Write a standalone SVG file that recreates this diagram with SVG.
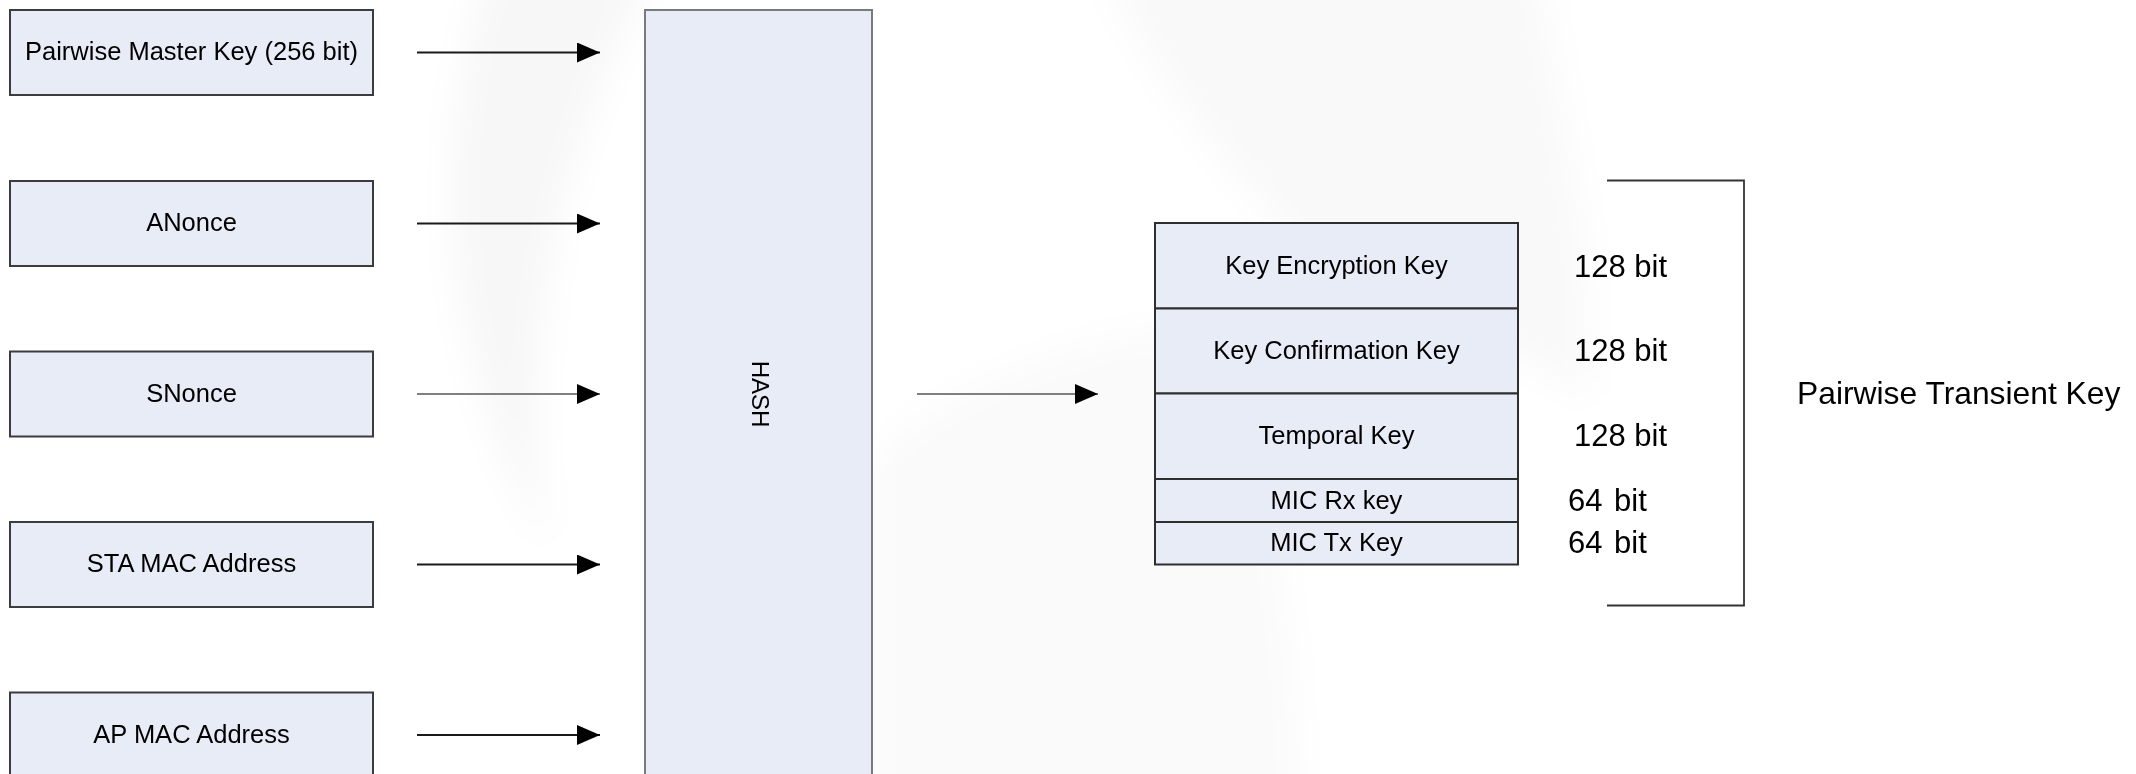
<svg xmlns="http://www.w3.org/2000/svg" width="2136" height="774" viewBox="0 0 2136 774">
  <style>
    .box { fill: #e8ecf7; stroke: #3c3c3c; stroke-width: 2; }
    .hash { fill: #e8ecf7; stroke: #7a7a7a; stroke-width: 2; }
    .cell { fill: #e8ecf7; stroke: #2e2e2e; stroke-width: 2; }
    .lbl { font-family: "Liberation Sans", Arial, sans-serif; font-size: 25.5px; fill: #000; text-anchor: middle; }
    .big { font-family: "Liberation Sans", Arial, sans-serif; font-size: 31px; fill: #000; }
    .wire { stroke: #1a1a1a; stroke-width: 2; fill: none; marker-end: url(#arrow); }
    .wire.grey { stroke: #808080; }
    .bracket { stroke: #333; stroke-width: 1.8; fill: none; }
    .haze { fill: #000; opacity: 0.03; }
  </style>
  <defs>
    <marker id="arrow" markerUnits="userSpaceOnUse" markerWidth="24" markerHeight="22" refX="23" refY="10" orient="auto">
      <path d="M0,0 L23,10 L0,20 Z" fill="#000"/>
    </marker>
    <filter id="soft" x="-30%" y="-30%" width="160%" height="160%">
      <feGaussianBlur stdDeviation="18"/>
    </filter>
  </defs>

  <rect width="2136" height="774" fill="#fff"/>

  <!-- faint background swirl -->
  <g id="backdrop" filter="url(#soft)">
    <path class="haze" d="M488,-30 C440,120 425,330 548,548 C520,380 545,170 655,-30 Z"/>
    <path class="haze" style="opacity:0.025" d="M1100,-30 L1540,-30 L1585,240 L1590,400 C1500,340 1360,290 1285,230 C1210,150 1150,70 1100,-30 Z"/>
    <path class="haze" style="opacity:0.018" d="M872,460 C930,400 1040,350 1160,330 C1240,360 1290,500 1300,800 L872,800 Z"/>
  </g>

  <!-- inputs -->
  <g id="pmk">
    <rect class="box" x="10" y="10" width="363" height="85"/>
    <text class="lbl" x="191.5" y="60">Pairwise Master Key (256 bit)</text>
  </g>
  <g id="anonce">
    <rect class="box" x="10" y="181" width="363" height="85"/>
    <text class="lbl" x="191.5" y="231">ANonce</text>
  </g>
  <g id="snonce">
    <rect class="box" x="10" y="351.5" width="363" height="85"/>
    <text class="lbl" x="191.5" y="401.5">SNonce</text>
  </g>
  <g id="sta-mac">
    <rect class="box" x="10" y="522" width="363" height="85"/>
    <text class="lbl" x="191.5" y="572">STA MAC Address</text>
  </g>
  <g id="ap-mac">
    <rect class="box" x="10" y="692.5" width="363" height="100"/>
    <text class="lbl" x="191.5" y="742.5">AP MAC Address</text>
  </g>

  <!-- hash function -->
  <g id="hash">
    <rect class="hash" x="645" y="10" width="227" height="790"/>
    <text class="lbl" style="font-size:24px" transform="translate(752,394) rotate(90)">HASH</text>
  </g>

  <!-- derived key -->
  <g id="ptk">
    <rect class="cell" x="1155" y="223" width="363" height="85.5"/>
    <rect class="cell" x="1155" y="308.5" width="363" height="85"/>
    <rect class="cell" x="1155" y="393.5" width="363" height="85.5"/>
    <rect class="cell" x="1155" y="479" width="363" height="43"/>
    <rect class="cell" x="1155" y="522" width="363" height="42.5"/>
    <text class="lbl" x="1336.5" y="273.5">Key Encryption Key</text>
    <text class="lbl" x="1336.5" y="358.5">Key Confirmation Key</text>
    <text class="lbl" x="1336.5" y="444">Temporal Key</text>
    <text class="lbl" x="1336.5" y="508.5">MIC Rx key</text>
    <text class="lbl" x="1336.5" y="551">MIC Tx Key</text>
  </g>

  <g id="ptk-sizes">
    <text class="big" x="1574" y="277">128 bit</text>
    <text class="big" x="1574" y="360.5">128 bit</text>
    <text class="big" x="1574" y="445.5">128 bit</text>
    <text class="big" x="1568" y="510.5">64 <tspan dx="3">bit</tspan></text>
    <text class="big" x="1568" y="553">64 <tspan dx="3">bit</tspan></text>
  </g>

  <g id="ptk-bracket">
    <path class="bracket" d="M1607,180.5 H1744 V605.5 H1607"/>
    <text class="big" style="font-size:31.8px" x="1797" y="404">Pairwise Transient Key</text>
  </g>

  <!-- connectors -->
  <g id="connectors">
    <line class="wire" x1="417" y1="52.5" x2="600" y2="52.5"/>
    <line class="wire" x1="417" y1="223.5" x2="600" y2="223.5"/>
    <line class="wire grey" x1="417" y1="394" x2="600" y2="394"/>
    <line class="wire" x1="417" y1="564.5" x2="600" y2="564.5"/>
    <line class="wire" x1="417" y1="735" x2="600" y2="735"/>
    <line class="wire grey" x1="917" y1="394" x2="1098" y2="394"/>
  </g>
</svg>
